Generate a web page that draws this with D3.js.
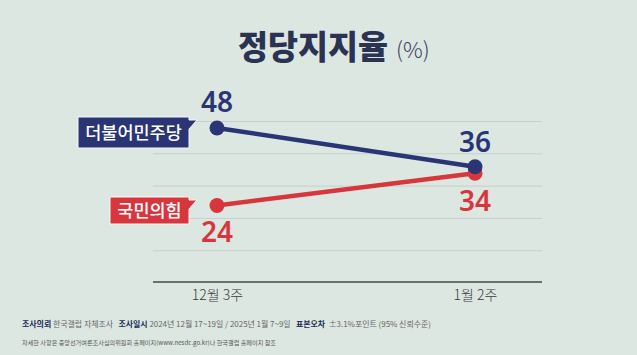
<!DOCTYPE html>
<html><head><meta charset="utf-8">
<script src="https://cdn.jsdelivr.net/npm/d3@7"></script>
<style>
html,body{margin:0;padding:0;background:#dde7e2;}
svg{display:block;font-family:"Noto Sans CJK KR","Noto Sans",sans-serif;}
</style></head>
<body><svg id="c" width="637" height="355"></svg>
<script>
const categories = ["12월 3주", "1월 2주"];
const partyNames = ["더불어민주당", "국민의힘"];
const demValues = [48, 36];
const pppValues = [24, 34];
const gridValues = [10, 20, 30, 40, 50];
const titleText = "정당지지율";
const unitText = "(%)";
const footer1 = [
  {t:"조사의뢰", b:true}, {t:" 한국갤럽 자체조사   ", b:false},
  {t:"조사일시", b:true}, {t:" 2024년 12월 17~19일 / 2025년 1월 7~9일   ", b:false},
  {t:"표본오차", b:true}, {t:"  ±3.1%포인트 (95% 신뢰수준)", b:false}
];
const footer2 = "자세한 사항은 중앙선거여론조사심의위원회 홈페이지(www.nesdc.go.kr)나 한국갤럽 홈페이지 참조";

const svg = d3.select("#c");
const blue = "#2a3576", red = "#d8363d";

const x = d3.scalePoint().domain(categories).range([217, 475]);
const y = d3.scaleLinear().domain([0, 50]).range([283, 121.5]);

// gridlines
svg.append("g").selectAll("line").data(gridValues).join("line")
  .attr("x1", 153).attr("x2", 542)
  .attr("y1", d => y(d)).attr("y2", d => y(d))
  .attr("stroke", "#c6d0cb").attr("stroke-width", 1);

// baseline + x axis
const xAxis = d3.axisBottom(x).tickSize(0).tickPadding(8);
const gx = svg.append("g").attr("transform", `translate(0,${y(0)-1})`).call(xAxis);
gx.select(".domain").remove();
gx.selectAll("text").attr("font-size", 14).attr("fill", "#3a3a3a").attr("font-weight", 300)
  .attr("font-family", "'Noto Sans CJK KR',sans-serif");
svg.append("line").attr("x1", 153).attr("x2", 542).attr("y1", y(0) - 1).attr("y2", y(0) - 1)
  .attr("stroke", "#6a706d").attr("stroke-width", 2);

// title
svg.append("text").attr("x", 238).attr("y", 59)
  .attr("fill", "#2b3352").attr("font-weight", 900).attr("font-size", 33)
  .attr("textLength", 150).attr("lengthAdjust", "spacingAndGlyphs")
  .text(titleText);
svg.append("text").attr("x", 396).attr("y", 58)
  .attr("fill", "#3a4260").attr("font-weight", 300).attr("font-size", 22)
  .text(unitText);

// lines
const line = d3.line().x((d, i) => x(categories[i])).y(d => y(d));
function drawSeries(vals, color) {
  svg.append("path").datum(vals).attr("d", line)
    .attr("fill", "none").attr("stroke", color).attr("stroke-width", 4.5);
  svg.append("g").selectAll("circle").data(vals).join("circle")
    .attr("cx", (d, i) => x(categories[i])).attr("cy", d => y(d))
    .attr("r", 7.5).attr("fill", color);
}
drawSeries(pppValues, red);
drawSeries(demValues, blue);

// value labels
const labFont = "'Noto Sans','Noto Sans CJK KR',sans-serif";
function valLabel(v, i, dy, color) {
  svg.append("text").attr("x", x(categories[i])).attr("y", y(v) + dy)
    .attr("text-anchor", "middle").attr("font-size", 28).attr("font-weight", 600)
    .attr("font-family", labFont).attr("fill", color).text(v);
}
valLabel(demValues[0], 0, -16, blue);
valLabel(demValues[1], 1, -15, blue);
valLabel(pppValues[0], 0, 37, red);
valLabel(pppValues[1], 1, 38, red);

// party tags
function tag(name, color, x0, x1, y0, y1) {
  const tipX = 197;
  svg.append("path")
    .attr("d", `M${x0},${y0} H${x1} V${y0+3} L${tipX},${y0+3} L${x1},${y0+12} V${y1} H${x0} Z`)
    .attr("fill", color).attr("stroke", "#f4f7f5").attr("stroke-width", 1);
  svg.append("text").attr("x", (x0 + x1) / 2).attr("y", (y0 + y1) / 2 + 6)
    .attr("text-anchor", "middle").attr("fill", "#fff").attr("font-size", 17.5)
    .attr("font-weight", 500).text(name);
}
tag(partyNames[0], blue, 78, 189, 117, 148);
tag(partyNames[1], red, 110, 189, 197, 224);

// footer
const f1 = svg.append("text").attr("x", 22).attr("y", 327).attr("font-size", 8)
  .attr("textLength", 409).attr("lengthAdjust", "spacingAndGlyphs");
footer1.forEach(s => f1.append("tspan").text(s.t)
  .attr("font-weight", s.b ? 700 : 400).attr("fill", s.b ? "#222a55" : "#666"));
f1.style("white-space", "pre");
svg.append("text").attr("x", 22).attr("y", 345).attr("font-size", 6)
  .attr("textLength", 254).attr("lengthAdjust", "spacingAndGlyphs")
  .attr("fill", "#555").text(footer2);
</script></body></html>
